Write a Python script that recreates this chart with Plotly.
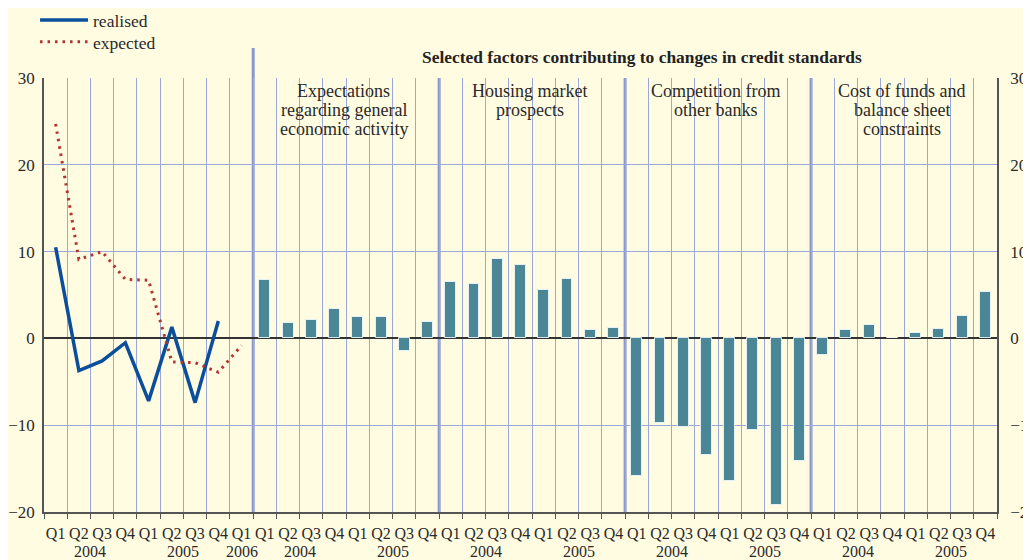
import plotly.graph_objects as go

# ---------------- data ----------------
quarter_labels = ["Q1", "Q2", "Q3", "Q4"]
left_ticks = quarter_labels + quarter_labels + ["Q1"]          # Q1 2004 .. Q1 2006
group_ticks = quarter_labels + quarter_labels                     # Q1 2004 .. Q4 2005

realised = [10.5, -3.7, -2.6, -0.5, -7.2, 1.3, -7.4, 2.0]
expected = [24.7, 9.1, 10.0, 6.8, 6.7, -2.7, -2.8, -3.9, -0.8]

group_names = [
    ["Expectations", "regarding general", "economic activity"],
    ["Housing market", "prospects"],
    ["Competition from", "other banks"],
    ["Cost of funds and", "balance sheet", "constraints"],
]
expectations_activity = [6.7, 1.8, 2.1, 3.4, 2.5, 2.5, -1.4, 1.85]
housing_prospects = [6.5, 6.3, 9.2, 8.4, 5.6, 6.85, 0.95, 1.15]
competition_banks = [-15.9, -9.8, -10.2, -13.4, -16.4, -10.5, -19.2, -14.1]
cost_of_funds = [-1.9, 0.95, 1.6, 0.0, 0.6, 1.05, 2.6, 5.3]

left_years = [("2004", 1.5), ("2005", 5.5), ("2006", 8.0)]
group_years = ["2004", "2005"]

title_text = "Selected factors contributing to changes in credit standards"

# ---------------- build ----------------
FONT = "Liberation Serif"
BG = "#FFFCE1"
GRID = "#9aa8dc"
AXIS = "#555555"
BAR = "#4a8696"

n_left = len(left_ticks)
groups = [expectations_activity, housing_prospects, competition_banks, cost_of_funds]
bar_x, bar_y = [], []
for g, vals in enumerate(groups):
    for i, v in enumerate(vals):
        bar_x.append(n_left + g * 8 + i)
        bar_y.append(v)

tick_text = left_ticks + group_ticks * 4
n_total = len(tick_text)

fig = go.Figure()
fig.add_trace(go.Bar(
    x=bar_x, y=bar_y, width=0.47, yaxis="y2",
    marker=dict(color=BAR, line=dict(color="rgba(235,245,250,0.9)", width=1)),
    showlegend=False, hoverinfo="x+y"))
fig.add_trace(go.Scatter(
    x=list(range(len(realised))), y=realised, mode="lines", name="realised",
    line=dict(color="#0b4f9c", width=3.5), legend="legend"))
fig.add_trace(go.Scatter(
    x=list(range(len(expected))), y=expected, mode="lines", name="expected",
    line=dict(color="#b3342f", width=3, dash="2.5px,5px"), legend="legend2"))

# thick separators
shapes = []
for k, xb in enumerate([n_left - 0.5, n_left + 7.5, n_left + 15.5, n_left + 23.5]):
    shapes.append(dict(type="line", xref="x", yref="paper", x0=xb, x1=xb,
                       y0=0, y1=(1.069 if k == 0 else 1.0),
                       line=dict(color="#8a98d0", width=3), layer="below"))

annotations = []
# title
annotations.append(dict(text="<b>" + title_text + "</b>", xref="paper", yref="paper",
                        x=0.6275, y=1.048, showarrow=False, yanchor="middle",
                        font=dict(family=FONT, size=17.4, color="#222")))
# group names
line_ys = [0.970, 0.926, 0.8825]
for g, lines in enumerate(group_names):
    cx = n_left + g * 8 + 3.5
    for j, ln in enumerate(lines):
        annotations.append(dict(text=ln, xref="x", yref="paper", x=cx - 0.1, y=line_ys[j],
                                showarrow=False, yanchor="middle",
                                font=dict(family=FONT, size=18, color="#2a2a2a")))
# years
year_y = -0.092
for txt, xv in left_years:
    annotations.append(dict(text=txt, xref="x", yref="paper", x=xv, y=year_y,
                            showarrow=False, yanchor="middle",
                            font=dict(family=FONT, size=16, color="#2a2a2a")))
for g in range(4):
    for j, txt in enumerate(group_years):
        annotations.append(dict(text=txt, xref="x", yref="paper",
                                x=n_left + g * 8 + j * 4 + 1.5, y=year_y,
                                showarrow=False, yanchor="middle",
                                font=dict(family=FONT, size=16, color="#2a2a2a")))

legend_common = dict(xanchor="left", yanchor="middle", bgcolor="rgba(0,0,0,0)",
                     font=dict(family=FONT, size=17.5), itemwidth=48)

fig.update_layout(
    width=1031, height=560, autosize=False,
    # page body adds an 8px offset; margins compensate so the plot area sits at 44..997 x 78..512
    margin=dict(l=36, r=42, t=70, b=56, autoexpand=False),
    paper_bgcolor=BG, plot_bgcolor=BG,
    font=dict(family=FONT, size=16, color="#2a2a2a"),
    bargap=0,
    shapes=shapes, annotations=annotations,
    legend=dict(x=-0.0094, y=1.1336, **legend_common),
    legend2=dict(x=-0.0094, y=1.083, **legend_common),
    xaxis=dict(range=[-0.5, n_total - 0.5], tickmode="array",
               tickvals=list(range(n_total)), ticktext=tick_text,
               ticks="", showgrid=False, zeroline=False,
               showline=True, linecolor=AXIS, linewidth=1.5,
               ticklabelstandoff=6, automargin=False,
               tickfont=dict(family=FONT, size=16),
               minor=dict(tickmode="array",
                          tickvals=[k + 0.5 for k in range(-1, n_total)],
                          ticks="outside", ticklen=5, tickcolor=AXIS, tickwidth=1,
                          showgrid=True, gridcolor=GRID, gridwidth=1)),
    yaxis=dict(range=[-20, 30], dtick=10, tick0=0,
               showgrid=True, gridcolor=GRID, gridwidth=1,
               zeroline=True, zerolinecolor="#333333", zerolinewidth=1.8,
               showline=True, linecolor=AXIS, linewidth=1.5,
               ticks="", ticklabelstandoff=4, automargin=False,
               tickfont=dict(family=FONT, size=17)),
    yaxis2=dict(range=[-20, 30], dtick=10, tick0=0, overlaying="y", side="right",
                showgrid=False, zeroline=False,
                showline=True, linecolor=AXIS, linewidth=1.5,
                ticks="", ticklabelstandoff=8, automargin=False,
                tickfont=dict(family=FONT, size=17)),
)

fig.write_html("out.html")
